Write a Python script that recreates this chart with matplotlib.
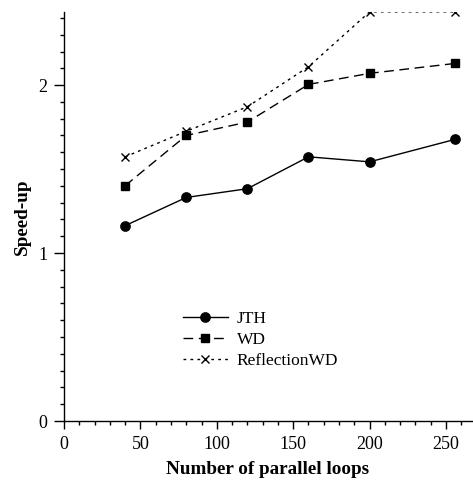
import matplotlib
matplotlib.use("Agg")
import matplotlib.pyplot as plt
from matplotlib.ticker import MultipleLocator

loops = [40, 80, 120, 160, 200, 256]
jth = [1.163, 1.331, 1.383, 1.573, 1.543, 1.677]
wd = [1.401, 1.700, 1.780, 2.004, 2.070, 2.129]
reflection_wd = [1.573, 1.725, 1.871, 2.109, 2.436, 2.436]

plt.rcParams.update(
    {
        "font.family": "Liberation Serif",
        "font.size": 12.5,
        "axes.spines.top": False,
        "axes.spines.right": False,
        "axes.linewidth": 1.0,
    }
)

fig = plt.figure(figsize=(4.73, 4.82), dpi=100)
ax = fig.add_axes([64 / 473, 61 / 482, 408 / 473, 409.3 / 482])

ax.plot(loops, jth, color="black", lw=1.0, ls="-", marker="o", ms=6.7, label="JTH")
ax.plot(loops, wd, color="black", lw=1.0, ls=(0, (7, 4)), marker="s", ms=6.2, label="WD")
ax.plot(loops, reflection_wd, color="black", lw=1.0, ls=(0, (2, 3)), marker="x",
        ms=5.5, mew=1.0, label="ReflectionWD")

ax.set_xlim(0, 267)
ax.set_ylim(0, 2.437)
ax.xaxis.set_major_locator(MultipleLocator(50))
ax.xaxis.set_minor_locator(MultipleLocator(10))
ax.yaxis.set_major_locator(MultipleLocator(1))
ax.yaxis.set_minor_locator(MultipleLocator(0.1))
ax.tick_params(which="major", direction="out", length=5.5, width=1.0, labelsize=13)
ax.tick_params(which="minor", direction="out", length=3, width=1.0)
ax.tick_params(axis="x", which="major", pad=5)
ax.tick_params(axis="y", which="major", length=7, pad=5)

ax.set_xlabel("Number of parallel loops", fontweight="bold", fontsize=13.8, labelpad=6)
ax.set_ylabel("Speed-up", fontweight="bold", fontsize=13.8, labelpad=5)

ax.legend(loc="upper left", bbox_to_anchor=(0.291, 0.268), frameon=False,
          borderpad=0, borderaxespad=0, handlelength=2.6, handletextpad=0.5,
          labelspacing=0.27, fontsize=12.5)

fig.savefig("out.png", dpi=100)
